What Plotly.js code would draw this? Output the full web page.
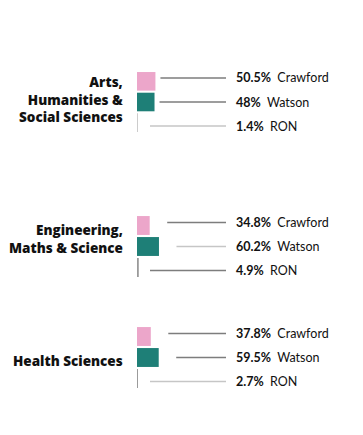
<!DOCTYPE html>
<html>
<head>
<meta charset="utf-8">
<script src="https://cdn.plot.ly/plotly-3.0.1.min.js"></script>
<style>html,body{margin:0;padding:0;background:#fff;}#chart{width:363px;height:435px;}</style>
</head>
<body>
<div id="chart"></div>
<script>
// ---- data ----
var groups = ["Arts,<br>Humanities &<br>Social Sciences", "Engineering,<br>Maths & Science", "Health Sciences"];
var seriesNames = ["Crawford", "Watson", "RON"];
var crawford = [50.5, 34.8, 37.8];
var watson = [48, 60.2, 59.5];
var ron = [1.4, 4.9, 2.7];
var valueLabels = [["50.5%", "48%", "1.4%"], ["34.8%", "60.2%", "4.9%"], ["37.8%", "59.5%", "2.7%"]];

// ---- styles / layout ----
var W = 363, H = 435, L = 137;
var pxPerUnit = 0.365;
var xMax = (W - L) / pxPerUnit;
var colors = ["#eca6ca", "#1e7f77", "#9a9a9a"];
var groupPx = [[71, 133], [215, 278], [326, 389]];
var groupLabelCenterPx = [99.5, 238.5, 361];
var groupLabelRightPx = 125;
var leaderGapPx = [5, 17.5, 17.5];
var ronLeaderPx = 13;
var leaderEndPx = 226, labelPx = 234;
var dark = "#7d7d7d", light = "#c6c6c6";
var leaderColors = [[dark, dark, light], [dark, light, dark], [dark, dark, light]];
var font = "Lato, 'Open Sans', sans-serif";
var labelFont = "'Open Sans', Lato, sans-serif";

var values = [crawford, watson, ron];
var traces = [], shapes = [], annotations = [];
var layout = {
  width: W, height: H,
  margin: {l: L, r: 0, t: 0, b: 0},
  paper_bgcolor: "#fff", plot_bgcolor: "#fff",
  showlegend: false,
  barmode: "group", bargap: 0, bargroupgap: 0.1,
  xaxis: {range: [0, xMax], visible: false, fixedrange: true},
  font: {family: font, color: "#111"}
};

function px2paperX(p) { return (p - L) / (W - L); }
function px2paperY(p) { return 1 - p / H; }

groups.forEach(function (g, gi) {
  var yName = gi === 0 ? "y" : "y" + (gi + 1);
  var axKey = gi === 0 ? "yaxis" : "yaxis" + (gi + 1);
  layout[axKey] = {
    domain: [1 - groupPx[gi][1] / H, 1 - groupPx[gi][0] / H],
    anchor: "x",
    type: "category",
    autorange: "reversed",
    showgrid: false, zeroline: false, showline: false,
    showticklabels: false, ticks: "",
    fixedrange: true
  };
  annotations.push({
    xref: "paper", yref: "paper",
    x: px2paperX(groupLabelRightPx), y: px2paperY(groupLabelCenterPx[gi]),
    xanchor: "right", yanchor: "middle", align: "right", showarrow: false,
    text: g,
    font: {family: labelFont, size: 13.5, color: "#111", weight: 800}
  });
  var spanPx = groupPx[gi][1] - groupPx[gi][0];
  seriesNames.forEach(function (s, si) {
    var v = values[si][gi];
    traces.push({
      type: "bar", orientation: "h",
      x: [v], y: [g], name: s,
      xaxis: "x", yaxis: yName,
      marker: {color: colors[si], line: {width: 0}},
      hoverinfo: "skip"
    });
    var yDom = 0.5 + (1 - si) * 24 / spanPx;
    var startPx = si === 2 ? L + ronLeaderPx : L + v * pxPerUnit + leaderGapPx[gi];
    shapes.push({
      type: "line", xref: "paper", yref: yName + " domain",
      x0: px2paperX(startPx), x1: px2paperX(leaderEndPx),
      y0: yDom, y1: yDom,
      line: {color: leaderColors[gi][si], width: 1.5}
    });
    annotations.push({
      xref: "paper", yref: yName + " domain",
      x: px2paperX(labelPx), y: yDom,
      xanchor: "left", yanchor: "middle",
      showarrow: false,
      text: "<b>" + valueLabels[gi][si] + "</b>\u00a0 " + s,
      font: {family: font, size: 12.5, color: "#111"}
    });
  });
});

layout.shapes = shapes;
layout.annotations = annotations;
Plotly.newPlot("chart", traces, layout, {staticPlot: true, displayModeBar: false});
</script>
</body>
</html>
